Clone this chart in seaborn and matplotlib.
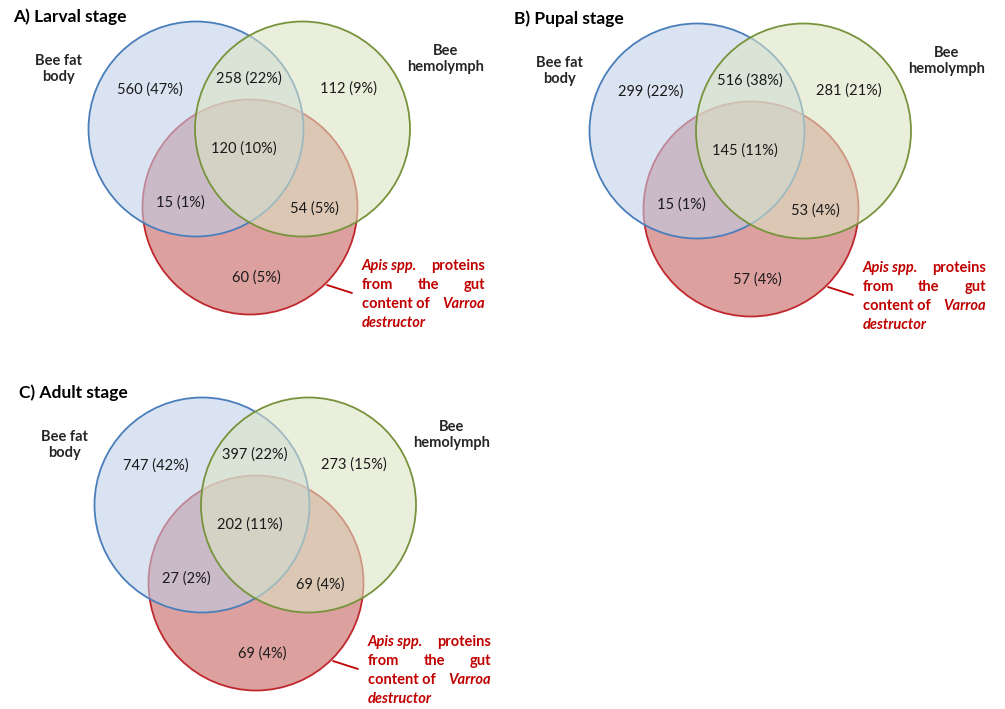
import matplotlib
matplotlib.use("Agg")
import matplotlib.pyplot as plt
from matplotlib.patches import Circle
import seaborn as sns

sns.set_theme(style="white")
plt.rcParams["font.family"] = ["Lato", "DejaVu Sans"]

# Region order: fat-body only, fat-body∩hemolymph, hemolymph only, all three,
# fat-body∩gut, hemolymph∩gut, gut only
stage_titles = ["A) Larval stage", "B) Pupal stage", "C) Adult stage"]
larval_counts = [560, 258, 112, 120, 15, 54, 60]
larval_pct = [47, 22, 9, 10, 1, 5, 5]
pupal_counts = [299, 516, 281, 145, 15, 53, 57]
pupal_pct = [22, 38, 21, 11, 1, 4, 4]
adult_counts = [747, 397, 273, 202, 27, 69, 69]
adult_pct = [42, 22, 15, 11, 2, 4, 4]
set_names = ["Bee fat\nbody", "Bee\nhemolymph"]

stages = [
    (stage_titles[0], larval_counts, larval_pct),
    (stage_titles[1], pupal_counts, pupal_pct),
    (stage_titles[2], adult_counts, adult_pct),
]

# panel origins (pixels) and circle layout relative to a panel
origins = [(0, 0), (501, 2), (6, 376)]
R = 107.5
c_blue = (196, 129)
c_green = (302.5, 129)
c_red = (250, 207)
region_xy = [(150, 90), (249, 79), (348, 89), (244, 149),
             (180, 203), (314, 209), (256, 278)]

blue_fill = (190 / 255, 207 / 255, 232 / 255, 0.57)
green_fill = (219 / 255, 229 / 255, 195 / 255, 0.58)
red_fill = (192 / 255, 80 / 255, 77 / 255, 0.54)
blue_edge = "#4a7ebb"
green_edge = "#77933c"
red_edge = "#c0282d"
label_red = "#c00000"
txt = "#1a1a1a"

fig = plt.figure(figsize=(10.05, 7.09), dpi=100)
ax = fig.add_axes([0, 0, 1, 1])
ax.set_xlim(0, 1005)
ax.set_ylim(709, 0)
ax.set_aspect("equal")
ax.axis("off")

for (title, counts, pct), (ox, oy) in zip(stages, origins):
    def P(x, y):
        return (x + ox, y + oy)

    ax.text(*P(13, 17), title, fontsize=12.5, fontweight="bold",
            ha="left", va="center", color="black")

    for (cx, cy), fc, ec, z in [(c_red, red_fill, red_edge, 1),
                                (c_blue, blue_fill, blue_edge, 2),
                                (c_green, green_fill, green_edge, 3)]:
        ax.add_patch(Circle(P(cx, cy), R, facecolor=fc, edgecolor=ec,
                            linewidth=1.3, zorder=z))

    ax.text(*P(58, 69), set_names[0], fontsize=10.5, fontweight="bold",
            ha="center", va="center", linespacing=1.25, zorder=5)
    ax.text(*P(446, 59), set_names[1], fontsize=10.5, fontweight="bold",
            ha="center", va="center", linespacing=1.25, zorder=5)

    for (x, y), n, p in zip(region_xy, counts, pct):
        ax.text(*P(x, y), f"{n} ({p}%)", fontsize=10.5, color=txt,
                ha="center", va="center", zorder=5)

    # leader line from the gut-content circle to its label
    x0, y0 = P(327, 285)
    x1, y1 = P(352, 293)
    ax.plot([x0, x1], [y0, y1], color=label_red, lw=1.3, zorder=5)

    lx, rx = 362, 485
    ly = [266, 285, 304, 323]
    kw = dict(fontsize=10.5, fontweight="bold", color=label_red,
              va="center", zorder=5)
    ax.text(*P(lx, ly[0]), "Apis spp.", ha="left", style="italic", **kw)
    ax.text(*P(rx, ly[0]), "proteins", ha="right", **kw)
    ax.text(*P(lx, ly[1]), "from", ha="left", **kw)
    ax.text(*P(428, ly[1]), "the", ha="center", **kw)
    ax.text(*P(rx, ly[1]), "gut", ha="right", **kw)
    ax.text(*P(lx, ly[2]), "content of", ha="left", **kw)
    ax.text(*P(rx, ly[2]), "Varroa", ha="right", style="italic", **kw)
    ax.text(*P(lx, ly[3]), "destructor", ha="left", style="italic", **kw)

fig.savefig("out.png", dpi=100, facecolor="white")
